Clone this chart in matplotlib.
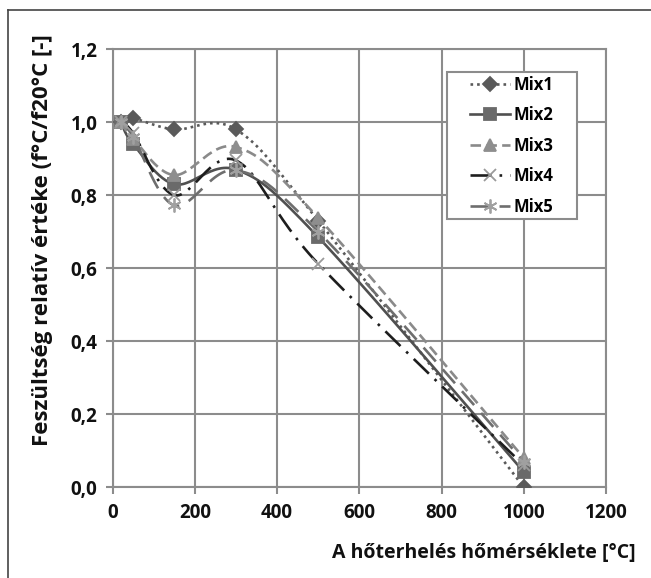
"""
Feszültség relatív értéke a hőterhelés függvényében (Mix1..Mix5)
"""

import numpy as np
import matplotlib
matplotlib.use("Agg")
import matplotlib.pyplot as plt
from matplotlib.patches import Rectangle
from matplotlib.ticker import FuncFormatter

# adatok
homerseklet = [20, 50, 150, 300, 500, 1000]
mix1 = [1.0, 1.01, 0.98, 0.98, 0.73, 0.0]
mix2 = [1.0, 0.94, 0.83, 0.87, 0.685, 0.042]
mix3 = [1.0, 0.955, 0.855, 0.932, 0.738, 0.08]
mix4 = [1.0, 0.97, 0.80, 0.895, 0.612, 0.06]
mix5 = [1.0, 0.96, 0.772, 0.868, 0.70, 0.07]
nevek = ["Mix1", "Mix2", "Mix3", "Mix4", "Mix5"]
sorozatok = [mix1, mix2, mix3, mix4, mix5]

X_MAX, Y_MAX = 1200, 1.2
FONT = ["Open Sans", "DejaVu Sans"]

# stílusok: (vonal szín, vonal stílus, marker, marker szín, marker méret)
STILUS = [
    ("#5a5a5a", (0, (1, 1.5)), "D", "#5a5a5a", 7),
    ("#505050", "-", "s", "#6a6a6a", 8),
    ("#8a8a8a", (0, (4, 2)), "^", "#8e8e8e", 8.5),
    ("#1e1e1e", (0, (8, 3, 1, 3)), "x", "#9a9a9a", 9),
    ("#6e6e6e", (0, (7, 4)), (6, 2, 0), "#a0a0a0", 10),
]


def simitott(xs, ys, n=30):
    """Excel-szerű simított vonal (Catmull-Rom), normált koordinátákban"""
    px = np.asarray(xs, float) / X_MAX * 494
    py = np.asarray(ys, float) / Y_MAX * 438
    pts = np.column_stack([px, py])
    pts = np.vstack([pts[0], pts, pts[-1]])
    out = []
    for i in range(1, len(pts) - 2):
        p0, p1, p2, p3 = pts[i - 1], pts[i], pts[i + 1], pts[i + 2]
        c1 = p1 + (p2 - p0) / 6
        c2 = p2 - (p3 - p1) / 6
        t = np.linspace(0, 1, n)[:, None]
        seg = ((1 - t) ** 3) * p1 + 3 * ((1 - t) ** 2) * t * c1 \
            + 3 * (1 - t) * t ** 2 * c2 + t ** 3 * p2
        out.append(seg if i == 1 else seg[1:])
    out = np.vstack(out)
    return out[:, 0] / 494 * X_MAX, out[:, 1] / 438 * Y_MAX


def main() -> None:
    """main"""
    plt.rcParams["font.family"] = FONT
    plt.rcParams["font.weight"] = "bold"
    fig = plt.figure(figsize=(6.51, 5.78), dpi=100)
    ax = fig.add_axes([0.173, 0.157, 0.758, 0.758])

    for nev, ys, (lc, ls, mk, mc, ms) in zip(nevek, sorozatok, STILUS):
        sx, sy = simitott(homerseklet, ys)
        ax.plot(sx, sy, color=lc, linestyle=ls, linewidth=1.9, zorder=3)
        ax.plot(homerseklet, ys, linestyle="none", marker=mk, color=mc,
                markersize=ms, markeredgewidth=1.3, zorder=4)
        # legendához
        ax.plot([], [], color=lc, linestyle=ls, linewidth=1.9, marker=mk,
                markerfacecolor=mc, markeredgecolor=mc, markersize=ms,
                markeredgewidth=1.3, label=nev)

    ax.set_xlim(0, X_MAX)
    ax.set_ylim(0, Y_MAX)
    ax.set_xticks(np.arange(0, 1201, 200))
    ax.set_yticks(np.arange(0, 1.21, 0.2))
    ax.yaxis.set_major_formatter(FuncFormatter(lambda v, p: f"{v:.1f}".replace(".", ",")))
    ax.grid(True, color="#8c8c8c", linewidth=1.5)
    ax.set_axisbelow(True)
    for sp in ax.spines.values():
        sp.set_color("#8c8c8c")
        sp.set_linewidth(1.5)
    ax.tick_params(colors="#8c8c8c", length=5, width=1.5, labelsize=13.5,
                   labelcolor="#111111", pad=6)

    fig.text(0.066, 0.585, "Feszültség relatív értéke (f°C/f20°C [-]",
             rotation=90, ha="center", va="center", fontsize=16,
             fontweight="bold", color="#111111")
    fig.text(0.977, 0.043, "A hőterhelés hőmérséklete [°C]", ha="right",
             va="center", fontsize=14, fontweight="bold", color="#111111")

    # legenda keret kézzel
    ax.add_patch(Rectangle((0.677, 0.612), 0.265, 0.335, transform=ax.transAxes,
                           facecolor="white", edgecolor="#8c8c8c",
                           linewidth=1.5, zorder=5))
    handles, labels = ax.get_legend_handles_labels()
    kell = [i for i, l in enumerate(labels) if l in nevek]
    leg = ax.legend([handles[i] for i in kell], [labels[i] for i in kell],
                    loc="center", bbox_to_anchor=(0.8095, 0.7795),
                    frameon=False, fontsize=12, handlelength=2.4,
                    labelspacing=0.75, borderpad=0.2, handletextpad=0.2)
    leg.set_zorder(6)
    for txt in leg.get_texts():
        txt.set_fontweight("bold")

    # keret
    fig.add_artist(plt.Line2D([0.013, 0.013], [0.0, 0.983], color="#444444",
                              linewidth=1.2, transform=fig.transFigure))
    fig.add_artist(plt.Line2D([0.013, 1.0], [0.983, 0.983], color="#444444",
                              linewidth=1.2, transform=fig.transFigure))

    fig.savefig("out.png", dpi=100)


if __name__ == "__main__":
    main()
